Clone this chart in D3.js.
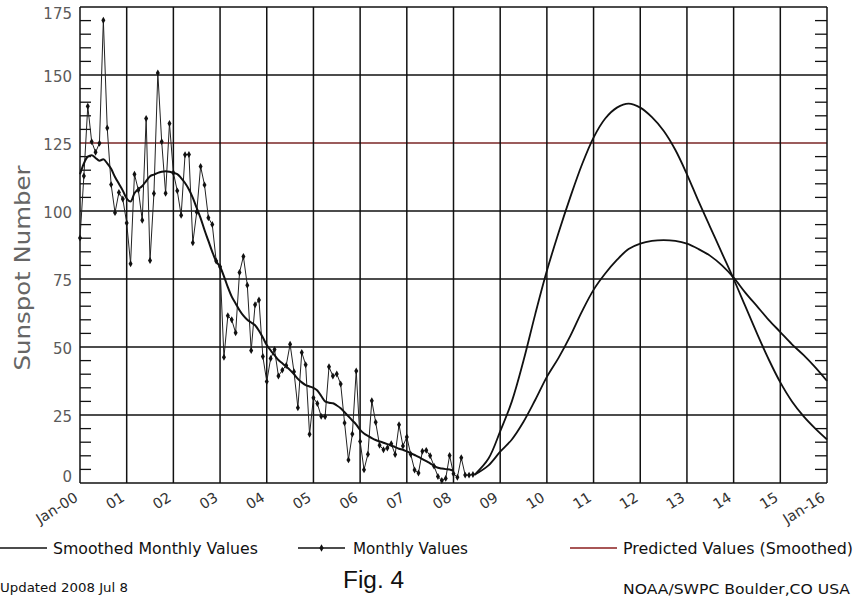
<!DOCTYPE html>
<html><head><meta charset="utf-8">
<script src="https://cdn.jsdelivr.net/npm/d3@7"></script>
<style>
html,body{margin:0;padding:0;background:#fff;}
svg{display:block;}
text{font-family:"DejaVu Sans","Liberation Sans",sans-serif;}
</style></head>
<body><svg id="c" width="856" height="598"></svg>
<script>
// ---------- data ----------
const yTickValues = [0, 25, 50, 75, 100, 125, 150, 175];
const xTickLabels = ["Jan-00","01","02","03","04","05","06","07","08","09","10","11","12","13","14","15","Jan-16"];

// monthly sunspot numbers, Jan 2000 .. Jun 2008
const monthlyValues = [
  90.1,112.9,138.5,125.5,121.6,124.9,170.1,130.5,109.7,99.4,106.8,104.4,
  95.6,80.6,113.5,107.7,96.6,134.0,81.8,106.4,150.7,125.5,106.5,132.2,
  114.1,107.4,98.4,120.7,120.8,88.3,99.6,116.4,109.6,97.5,95.0,81.6,
  79.5,46.2,61.5,60.0,55.2,77.4,83.3,72.7,48.7,65.5,67.3,46.5,
  37.3,45.8,49.1,39.3,41.5,43.2,51.0,40.9,27.7,48.0,43.5,17.9,
  31.3,29.2,24.5,24.4,42.7,39.3,40.1,36.4,22.1,8.5,18.0,41.2,
  15.3,4.9,10.6,30.2,22.3,13.9,12.2,12.9,14.4,10.5,21.4,13.6,
  16.9,10.6,4.8,3.7,11.7,12.0,10.0,6.2,2.4,0.9,1.7,10.1,
  3.4,2.1,9.3,2.9,2.9,3.1
];

// smoothed monthly values, Jan 2000 .. Jan 2008
const smoothedValues = [
  113.5,117.5,120,120.5,119.5,118.5,119,117.5,115.5,112.5,110,107.5,
  104.6,103.5,106.5,108,109.2,111,112.8,113.4,114,114.4,114.6,114.4,
  114,113.6,112.1,110.3,107.9,104.8,101.1,97.4,93,89,85,81.5,
  79.5,76,72,68.5,66,63.5,61.5,60,59,58,56,53.5,
  50.7,48.8,47,45.2,44,42.8,41.5,40,38.3,37,36,35.5,
  35,34,32,30,29.5,29.3,28.5,27.5,26,24.5,23,21.5,
  19.5,18.2,17.3,16.5,15.8,15.3,14.8,14.3,13.8,13.2,12.6,12.2,
  11.6,11,10.3,9.6,8.8,8,7.2,6.3,5.6,5.3,5.1,5,
  4.5
];

// predicted smoothed curves: [years since Jan 2000, value]
const predictedHigh = [
  [8.45,3],[8.75,9],[9.0,19],[9.25,30],[9.5,45],[9.75,62],[10.0,78],[10.25,92],
  [10.5,105],[10.75,117],[11.0,127],[11.25,134],[11.5,138],[11.75,139.5],[12.0,138],
  [12.25,134.5],[12.5,129.5],[12.75,122.5],[13.0,113.5],[13.25,103.5],[13.5,94],[13.75,84.5],
  [14.0,75],[14.25,65],[14.5,55],[14.75,45.5],[15.0,37],[15.25,30],[15.5,24.5],[15.75,20],[16.0,16]
];
const predictedLow = [
  [8.45,3],[8.75,6.5],[9.0,11.5],[9.25,16],[9.5,22.5],[9.75,30.5],[10.0,39],[10.25,46],
  [10.5,54],[10.75,63],[11.0,71],[11.25,77],[11.5,82],[11.75,86],[12.0,88],[12.25,89],
  [12.5,89.3],[12.75,89],[13.0,88],[13.25,86],[13.5,83.5],[13.75,80],[14.0,75.5],
  [14.25,70],[14.5,65],[14.75,60],[15.0,55.5],[15.25,51],[15.5,47],[15.75,42.5],[16.0,37.5]
];

const legendLabels = ["Smoothed Monthly Values","Monthly Values","Predicted Values (Smoothed)"];

// ---------- chart ----------
const svg = d3.select("#c");
const L = 80, R = 827, T = 7, B = 483;
const x = d3.scaleLinear().domain([0,16]).range([L,R]);
const y = d3.scaleLinear().domain([0,175]).range([B,T]);

// minor ticks (every 5) on left and right axes
const minor = d3.range(5,175,5).filter(v => v % 25 !== 0);
svg.append("g").selectAll("line").data(minor).join("line")
  .attr("x1",L).attr("x2",L+11).attr("y1",d=>y(d)).attr("y2",d=>y(d))
  .attr("stroke","#111").attr("stroke-width",1.3);
svg.append("g").selectAll("line").data(minor).join("line")
  .attr("x1",R-12).attr("x2",R).attr("y1",d=>y(d)).attr("y2",d=>y(d))
  .attr("stroke","#111").attr("stroke-width",1.3);

// horizontal grid
svg.append("g").selectAll("line").data(yTickValues).join("line")
  .attr("x1",L).attr("x2",R).attr("y1",d=>y(d)).attr("y2",d=>y(d))
  .attr("stroke",d=> d===125 ? "#7a2626" : "#111").attr("stroke-width",1.5);

// vertical grid
svg.append("g").selectAll("line").data(d3.range(0,17)).join("line")
  .attr("x1",d=>x(d)).attr("x2",d=>x(d)).attr("y1",T).attr("y2",B)
  .attr("stroke","#111").attr("stroke-width",1.5);

// y axis labels
svg.append("g").selectAll("text").data(yTickValues).join("text")
  .attr("x",72).attr("y",d=> d===175 ? 18.5 : (d===0 ? 482 : y(d)+6.5)).attr("text-anchor","end")
  .attr("font-size",15).attr("fill","#5a5a5a").text(d=>d);

// y axis title
svg.append("text").attr("transform","translate(30,268) rotate(-90)")
  .attr("text-anchor","middle").attr("font-size",22).attr("fill","#666")
  .attr("textLength",205).attr("lengthAdjust","spacingAndGlyphs")
  .text("Sunspot Number");

// x labels, rotated
svg.append("g").selectAll("text").data(xTickLabels).join("text")
  .attr("transform",(d,i)=>`translate(${x(i)-1},${B+17}) rotate(-32)`)
  .attr("text-anchor","end").attr("font-size",14.5).attr("fill","#333")
  .text(d=>d);

// monthly values
const monthX = i => x(i/12);
const lineM = d3.line().x((d,i)=>monthX(i)).y(d=>y(d));
svg.append("path").datum(monthlyValues).attr("d",lineM)
  .attr("fill","none").attr("stroke","#222").attr("stroke-width",1);
svg.append("g").selectAll("path").data(monthlyValues).join("path")
  .attr("d",d3.symbol(d3.symbolDiamond,14))
  .attr("transform",(d,i)=>`translate(${monthX(i)},${y(d)})`)
  .attr("fill","#111");

// smoothed values
svg.append("path").datum(smoothedValues)
  .attr("d",d3.line().x((d,i)=>monthX(i)).y(d=>y(d)).curve(d3.curveMonotoneX))
  .attr("fill","none").attr("stroke","#111").attr("stroke-width",2);

// predicted curves
const lineP = d3.line().x(d=>x(d[0])).y(d=>y(d[1])).curve(d3.curveCatmullRom);
[predictedHigh,predictedLow].forEach(s=>{
  svg.append("path").datum(s).attr("d",lineP)
    .attr("fill","none").attr("stroke","#111").attr("stroke-width",1.8);
});

// legend
const lg = svg.append("g").attr("font-size",15).attr("fill","#111");
lg.append("line").attr("x1",0).attr("x2",47).attr("y1",548).attr("y2",548).attr("stroke","#111").attr("stroke-width",1.3);
lg.append("text").attr("x",53).attr("y",554).attr("textLength",205).attr("lengthAdjust","spacingAndGlyphs").text(legendLabels[0]);
lg.append("line").attr("x1",298).attr("x2",345).attr("y1",548).attr("y2",548).attr("stroke","#111").attr("stroke-width",1.3);
lg.append("path").attr("d",d3.symbol(d3.symbolDiamond,16)).attr("transform","translate(321.5,548)").attr("fill","#111");
lg.append("text").attr("x",353).attr("y",554).attr("textLength",115).attr("lengthAdjust","spacingAndGlyphs").text(legendLabels[1]);
lg.append("line").attr("x1",570).attr("x2",617).attr("y1",548).attr("y2",548).attr("stroke","#8b1e1e").attr("stroke-width",1.3);
lg.append("text").attr("x",623).attr("y",554).attr("textLength",230).attr("lengthAdjust","spacingAndGlyphs").text(legendLabels[2]);

// footer
svg.append("text").attr("x",0).attr("y",592).attr("font-size",12.5).attr("fill","#111")
  .attr("textLength",128).attr("lengthAdjust","spacingAndGlyphs").text("Updated 2008 Jul  8");
svg.append("text").attr("x",343).attr("y",588).attr("font-size",23)
  .style("font-family","'Liberation Sans',Arial,sans-serif").attr("fill","#111")
  .attr("textLength",61).attr("lengthAdjust","spacingAndGlyphs").text("Fig. 4");
svg.append("text").attr("x",623).attr("y",594).attr("font-size",13.5).attr("fill","#111")
  .attr("textLength",227).attr("lengthAdjust","spacingAndGlyphs").text("NOAA/SWPC Boulder,CO USA");
</script></body></html>
